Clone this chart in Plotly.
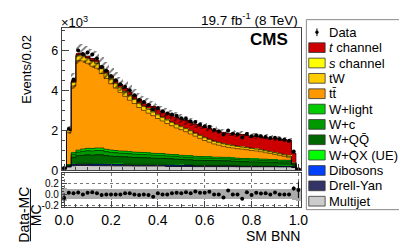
import plotly.graph_objects as go

W, H = 407, 248
def px(x): return x / W
def py(y): return 1 - y / H

FONT = "Liberation Sans, Arial, Helvetica, sans-serif"

bin_width = 0.02
bin_centers = [round(i * bin_width, 2) for i in range(51)]

# values in units of 10^3 events
multijet = [0.05,0.15,0.22,0.24,0.24,0.24,0.23,0.23,0.22,0.22, 0.22,0.21,0.21,0.21,0.21,0.20,0.20,0.20,0.20,0.20,
            0.20,0.20,0.19,0.19,0.19,0.19,0.19,0.19,0.18,0.18, 0.18,0.18,0.18,0.18,0.18,0.18,0.18,0.17,0.17,0.17,
            0.17,0.17,0.17,0.17,0.17,0.17,0.16,0.16,0.16,0.14,0.01]
drell_yan = [0.03,0.04,0.06,0.06,0.06,0.06,0.06,0.06,0.06,0.06, 0.06,0.06,0.06,0.05,0.05,0.05,0.05,0.05,0.05,0.05,
             0.05,0.05,0.05,0.05,0.04,0.04,0.04,0.04,0.04,0.04, 0.04,0.04,0.04,0.04,0.04,0.04,0.04,0.04,0.03,0.03,
             0.03,0.03,0.03,0.03,0.03,0.03,0.03,0.03,0.03,0.02,0.00]
dibosons = [0.00,0.01,0.03,0.03,0.03,0.03,0.03,0.03,0.03,0.03, 0.03,0.03,0.03,0.03,0.03,0.03,0.03,0.03,0.03,0.03,
            0.03,0.03,0.03,0.03,0.03,0.02,0.02,0.02,0.02,0.02, 0.02,0.02,0.02,0.02,0.02,0.02,0.02,0.02,0.02,0.02,
            0.02,0.02,0.02,0.02,0.02,0.02,0.02,0.02,0.02,0.01,0.00]
w_qx_ue = [0.00,0.00,0.02,0.02,0.02,0.02,0.02,0.02,0.03,0.02, 0.02,0.02,0.02,0.02,0.02,0.02,0.02,0.02,0.02,0.02,
           0.02,0.02,0.02,0.02,0.02,0.02,0.01,0.01,0.01,0.01, 0.01,0.01,0.01,0.01,0.01,0.01,0.01,0.01,0.01,0.01,
           0.01,0.01,0.01,0.01,0.01,0.01,0.01,0.01,0.01,0.01,0.00]
w_qq = [0.00,0.04,0.32,0.38,0.40,0.42,0.42,0.43,0.43,0.40, 0.38,0.37,0.36,0.36,0.35,0.34,0.34,0.33,0.32,0.31,
        0.30,0.30,0.29,0.28,0.28,0.27,0.26,0.26,0.25,0.25, 0.24,0.24,0.23,0.23,0.22,0.22,0.21,0.21,0.20,0.20,
        0.19,0.19,0.18,0.18,0.17,0.17,0.16,0.16,0.15,0.08,0.00]
w_c = [0.00,0.02,0.15,0.18,0.20,0.21,0.21,0.22,0.22,0.20, 0.19,0.19,0.18,0.18,0.17,0.17,0.16,0.16,0.16,0.15,
       0.15,0.15,0.14,0.14,0.14,0.13,0.13,0.13,0.12,0.12, 0.12,0.12,0.11,0.11,0.11,0.11,0.10,0.10,0.10,0.10,
       0.09,0.09,0.09,0.09,0.09,0.08,0.08,0.08,0.08,0.04,0.00]
w_light = [0.00,0.01,0.08,0.10,0.12,0.12,0.12,0.13,0.13,0.12, 0.12,0.11,0.11,0.11,0.10,0.10,0.10,0.10,0.09,0.09,
           0.09,0.09,0.09,0.08,0.08,0.08,0.08,0.08,0.08,0.07, 0.07,0.07,0.07,0.07,0.07,0.07,0.06,0.06,0.06,0.06,
           0.06,0.06,0.06,0.06,0.05,0.05,0.05,0.05,0.05,0.03,0.00]
ttbar = [0.04,1.63,3.34,4.47,4.40,4.26,4.12,3.99,3.72,3.55, 3.31,3.12,2.93,2.74,2.58,2.43,2.24,2.11,1.99,1.88,
         1.75,1.63,1.53,1.44,1.34,1.28,1.20,1.09,1.01,0.91, 0.81,0.73,0.66,0.60,0.55,0.50,0.50,0.47,0.47,0.44,
         0.42,0.40,0.37,0.32,0.30,0.26,0.24,0.19,0.13,0.01,0.01]
tw = [0.00,0.08,0.18,0.24,0.25,0.25,0.25,0.24,0.24,0.23, 0.23,0.22,0.22,0.21,0.21,0.20,0.20,0.19,0.19,0.18,
      0.18,0.17,0.17,0.16,0.16,0.15,0.15,0.15,0.14,0.14, 0.14,0.13,0.13,0.12,0.12,0.12,0.11,0.11,0.10,0.10,
      0.10,0.09,0.09,0.09,0.08,0.08,0.08,0.07,0.07,0.03,0.00]
s_channel = [0.00,0.01,0.02,0.03,0.03,0.03,0.03,0.03,0.03,0.03, 0.03,0.03,0.03,0.03,0.03,0.03,0.03,0.03,0.03,0.03,
             0.03,0.03,0.03,0.03,0.03,0.02,0.02,0.02,0.02,0.02, 0.02,0.02,0.02,0.02,0.02,0.02,0.02,0.02,0.02,0.02,
             0.02,0.02,0.02,0.02,0.02,0.02,0.02,0.02,0.02,0.01,0.00]
t_channel = [0.00,0.01,0.03,0.05,0.07,0.08,0.09,0.10,0.11,0.12, 0.13,0.14,0.15,0.16,0.17,0.18,0.19,0.20,0.22,0.24,
             0.26,0.28,0.30,0.32,0.34,0.36,0.38,0.40,0.43,0.46, 0.50,0.52,0.54,0.55,0.56,0.57,0.58,0.59,0.60,0.60,
             0.61,0.62,0.63,0.65,0.67,0.69,0.71,0.74,0.76,0.47,0.03]
data = [0.112,2.06,4.54,6.00,5.82,5.89,5.80,5.59,5.17,4.98, 4.72,4.50,4.30,4.18,4.00,3.75,3.52,3.42,3.27,3.05,
        3.12,2.95,2.84,2.79,2.73,2.61,2.58,2.44,2.42,2.29, 2.21,2.18,2.01,1.95,1.79,1.99,1.83,1.80,1.64,1.82,
        1.70,1.75,1.70,1.67,1.61,1.63,1.56,1.53,1.48,0.94,0.054]
mc_unc_rel = [0.12,0.09,0.085,0.085,0.085,0.085,0.085,0.085,0.085,0.085, 0.085,0.085,0.085,0.085,0.085,0.085,0.085,0.085,0.085,0.085,
              0.085,0.085,0.085,0.085,0.085,0.085,0.085,0.085,0.085,0.085, 0.085,0.085,0.085,0.085,0.085,0.085,0.085,0.085,0.085,0.085,
              0.085,0.085,0.085,0.085,0.085,0.085,0.085,0.085,0.09,0.10,0.12]

# stack, bottom to top
stack = [
    ("Multijet", multijet, "#cccccc"),
    ("Drell-Yan", drell_yan, "#333366"),
    ("Dibosons", dibosons, "#0040ff"),
    ("W+QX (UE)", w_qx_ue, "#00ff00"),
    ("W+QQ\u0304", w_qq, "#006600"),
    ("W+c", w_c, "#009900"),
    ("W+light", w_light, "#00cc00"),
    ("tt\u0304", ttbar, "#ff9900"),
    ("tW", tw, "#ffcc00"),
    ("<i>s</i> channel", s_channel, "#ffff00"),
    ("<i>t</i> channel", t_channel, "#cc0000"),
]

fig = go.Figure()
edges = [round(c - bin_width / 2, 3) for c in bin_centers] + [round(bin_centers[-1] + bin_width / 2, 3)]
cum = [0.0] * len(bin_centers)
for name, vals, col in stack:
    fig.add_trace(go.Bar(x=bin_centers, y=vals, width=bin_width, marker=dict(color=col, line=dict(width=0)),
                         xaxis="x", yaxis="y", hoverinfo="skip"))
for name, vals, col in stack:
    cum = [a + b for a, b in zip(cum, vals)]
    fig.add_trace(go.Scatter(x=edges, y=cum + [cum[-1]], mode="lines", line=dict(shape="hv", color="rgba(0,0,0,0.65)", width=0.8),
                             xaxis="x", yaxis="y", hoverinfo="skip"))
mc_total = cum
unc = [t * r for t, r in zip(mc_total, mc_unc_rel)]

# hatched uncertainty band
fig.add_trace(go.Bar(x=bin_centers, y=[2 * u for u in unc], base=[t - u for t, u in zip(mc_total, unc)], width=bin_width,
                     marker=dict(color="rgba(0,0,0,0)", line=dict(width=0),
                                 pattern=dict(shape="/", fgcolor="black", bgcolor="rgba(0,0,0,0)", size=5, solidity=0.4, fillmode="overlay")),
                     xaxis="x", yaxis="y", hoverinfo="skip"))

data_err = [(d * 1000) ** 0.5 / 1000 for d in data]
fig.add_trace(go.Scatter(x=bin_centers, y=data, mode="markers", marker=dict(color="black", size=4),
                         error_y=dict(type="data", array=data_err, color="black", thickness=1, width=0),
                         xaxis="x", yaxis="y", hoverinfo="skip"))

# ratio panel
fig.add_trace(go.Bar(x=bin_centers, y=[2 * r for r in mc_unc_rel], base=[-r for r in mc_unc_rel], width=bin_width,
                     marker=dict(color="#aaaaaa", line=dict(width=0)), xaxis="x2", yaxis="y2", hoverinfo="skip"))
ratio = [(d - m) / m for d, m in zip(data, mc_total)]
ratio_err = [e / m for e, m in zip(data_err, mc_total)]
fig.add_trace(go.Scatter(x=bin_centers, y=ratio, mode="markers", marker=dict(color="black", size=4),
                         error_y=dict(type="data", array=ratio_err, color="black", thickness=1, width=0),
                         xaxis="x2", yaxis="y2", hoverinfo="skip"))

axcol = "#444444"
tickfont = dict(family=FONT, size=12.5, color="black")
xdom = [px(48.6), px(296.7)]
fig.update_layout(
    width=W, height=H, margin=dict(l=0, r=0, t=0, b=0),
    paper_bgcolor="white", plot_bgcolor="white",
    barmode="stack", bargap=0, showlegend=False,
    font=dict(family=FONT, color="black"),
    xaxis=dict(domain=xdom, range=[-0.01, 1.01], anchor="y", showticklabels=False, ticks="inside", tick0=0, dtick=0.2,
               ticklen=6, tickcolor=axcol, minor=dict(dtick=0.05, tick0=0, ticks="inside", ticklen=3, tickcolor=axcol),
               showline=True, linecolor=axcol, linewidth=1, mirror=True, showgrid=False, zeroline=False),
    yaxis=dict(domain=[py(167), py(21)], range=[0, 7.1], anchor="x", tick0=0, dtick=2, ticks="inside", ticklen=7,
               tickcolor=axcol, minor=dict(dtick=0.5, tick0=0, ticks="inside", ticklen=3.5, tickcolor=axcol),
               tickfont=tickfont, showline=True, linecolor=axcol, linewidth=1, mirror=True, showgrid=False, zeroline=False),
    xaxis2=dict(domain=xdom, range=[-0.01, 1.01], anchor="y2", tick0=0, dtick=0.2, tickformat=".1f", ticks="inside",
                ticklen=6, tickcolor=axcol, minor=dict(dtick=0.05, tick0=0, ticks="inside", ticklen=3, tickcolor=axcol),
                tickfont=dict(family=FONT, size=14, color="black"), showline=True, linecolor=axcol, linewidth=1, mirror=True,
                showgrid=True, gridcolor="#777777", griddash="dot", gridwidth=1, zeroline=False),
    yaxis2=dict(domain=[py(205), py(170)], range=[-0.23, 0.38], anchor="x2", tickvals=[-0.2, 0, 0.2],
                ticktext=["-0.2", "0.0", "0.2"], ticks="inside", ticklen=5, tickcolor=axcol,
                minor=dict(dtick=0.05, tick0=0, ticks="inside", ticklen=2.5, tickcolor=axcol),
                tickfont=dict(family=FONT, size=10, color="black"), showline=True, linecolor=axcol, linewidth=1, mirror=True,
                showgrid=True, gridcolor="#777777", griddash="dot", gridwidth=1, zeroline=False),
)

ann = []
def text(x, y, s, size, xanchor="left", angle=0, yanchor="middle"):
    ann.append(dict(x=px(x), y=py(y), xref="paper", yref="paper", text=s, showarrow=False, xanchor=xanchor,
                    yanchor=yanchor, textangle=angle, borderpad=0, font=dict(family=FONT, size=size, color="black")))

text(47, 14, "\u00d710<sup>3</sup>", 13)
text(12, 63, "Events/0.02", 13, xanchor="center", angle=-90)
text(295, 11.5, "19.7 fb<sup>-1</sup> (8 TeV)", 13.5, xanchor="right")
text(284, 32, "<b>CMS</b>", 17, xanchor="right")
text(297, 235, "SM BNN", 14, xanchor="right")
text(9, 213, "Data-MC", 14, xanchor="center", angle=-90)
text(22, 213, "MC", 14, xanchor="center", angle=-90)

shapes = [dict(type="line", xref="paper", yref="paper", x0=px(16), x1=px(16), y0=py(186), y1=py(240),
               line=dict(color="black", width=1))]

# legend (drawn manually)
shapes.append(dict(type="rect", xref="paper", yref="paper", x0=px(302.5), x1=px(406), y0=py(207.5), y1=py(12),
                   line=dict(color="#888888", width=1), fillcolor="white", layer="below"))
legend_items = [("Data", None)] + [(n, c) for n, v, c in reversed(stack)]
row0, dy = 25, 15.8
for k, (name, col) in enumerate(legend_items):
    y = row0 + k * dy
    if col is None:
        shapes.append(dict(type="line", xref="paper", yref="paper", x0=px(313.5), x1=px(313.5), y0=py(y + 4), y1=py(y - 4),
                           line=dict(color="black", width=1)))
        shapes.append(dict(type="circle", xref="paper", yref="paper", x0=px(312), x1=px(315), y0=py(y + 1.5), y1=py(y - 1.5),
                           line=dict(color="black", width=0.5), fillcolor="black"))
    else:
        shapes.append(dict(type="rect", xref="paper", yref="paper", x0=px(305), x1=px(322), y0=py(y + 5), y1=py(y - 5),
                           line=dict(color="#333333", width=0.8), fillcolor=col))
    text(325, y, name, 13)

fig.update_layout(annotations=ann, shapes=shapes)
fig.write_html("out.html")
